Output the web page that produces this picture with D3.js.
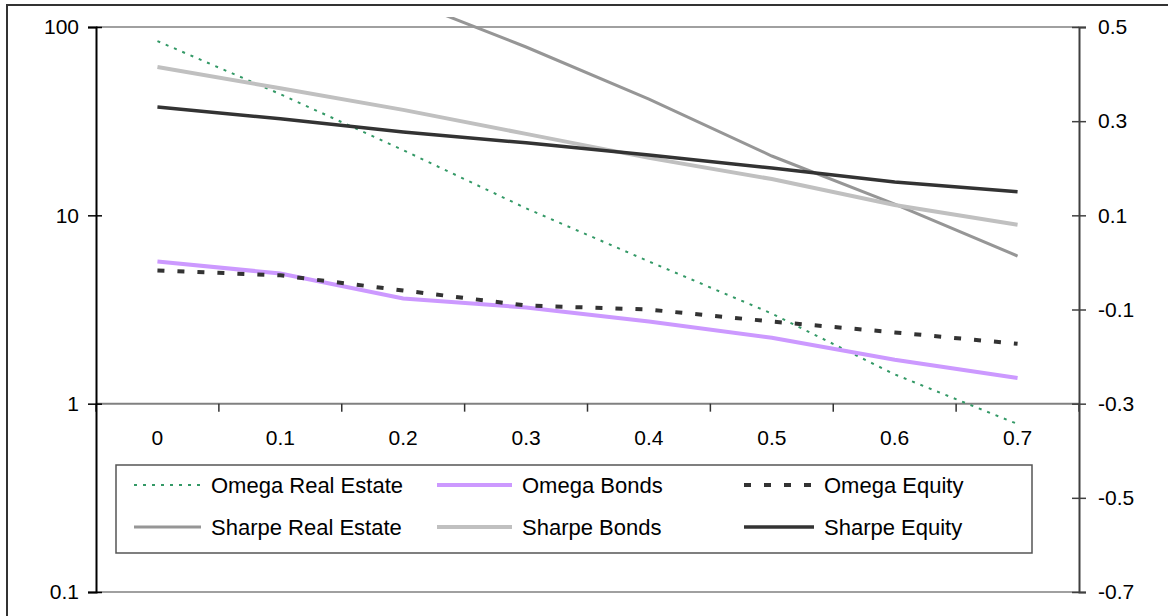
<!DOCTYPE html>
<html>
<head>
<meta charset="utf-8">
<script src="https://cdn.jsdelivr.net/npm/d3@7.9.0/dist/d3.min.js"></script>
<style>
  body { margin: 0; background: #fff; }
  svg { display: block; font-family: "Liberation Sans", Arial, sans-serif; }
</style>
</head>
<body>
<svg id="chart" width="1168" height="616"></svg>
<script>
// data
const weights = ['0', '0.1', '0.2', '0.3', '0.4', '0.5', '0.6', '0.7'];
const omegaRealEstate = [84.2, 44.0, 22.2, 10.9, 5.69, 3.01, 1.43, 0.78];
const omegaBonds = [5.69, 4.91, 3.62, 3.24, 2.73, 2.24, 1.71, 1.37];
const omegaEquity = [5.10, 4.80, 3.99, 3.32, 3.16, 2.73, 2.39, 2.08];
const sharpeRealEstate = [0.80, 0.68, 0.56, 0.4575, 0.347, 0.226, 0.124, 0.0136];
const sharpeBonds = [0.415, 0.370, 0.324, 0.273, 0.222, 0.177, 0.122, 0.080];
const sharpeEquity = [0.330, 0.305, 0.277, 0.254, 0.228, 0.2005, 0.171, 0.150];
const leftTicks = [0.1, 1, 10, 100];
const rightTicks = [-0.7, -0.5, -0.3, -0.1, 0.1, 0.3, 0.5];

const series = [
  { name: 'Omega Real Estate', values: omegaRealEstate, axis: 'left', color: '#339966', width: 2, dash: '3 6' },
  { name: 'Omega Bonds', values: omegaBonds, axis: 'left', color: '#cc99ff', width: 4 },
  { name: 'Omega Equity', values: omegaEquity, axis: 'left', color: '#333333', width: 4, dash: '7 13' },
  { name: 'Sharpe Real Estate', values: sharpeRealEstate, axis: 'right', color: '#969696', width: 3 },
  { name: 'Sharpe Bonds', values: sharpeBonds, axis: 'right', color: '#c0c0c0', width: 4 },
  { name: 'Sharpe Equity', values: sharpeEquity, axis: 'right', color: '#333333', width: 3.5 }
];

const svg = d3.select('#chart');
const plot = { left: 96, right: 1079, top: 27, bottom: 592 };

const x = d3.scaleBand().domain(weights).range([plot.left, plot.right]);
const yL = d3.scaleLog().domain([0.1, 100]).range([plot.bottom, plot.top]);
const yR = d3.scaleLinear().domain([-0.7, 0.5]).range([plot.bottom, plot.top]);

// outer chart border (runs off the bottom/right edge)
svg.append('rect')
  .attr('x', 7).attr('y', 5).attr('width', 1200).attr('height', 700)
  .attr('fill', 'none').attr('stroke', '#333').attr('stroke-width', 2);

// plot frame top / bottom
svg.append('line').attr('x1', plot.left).attr('x2', plot.right)
  .attr('y1', plot.top).attr('y2', plot.top).attr('stroke', '#808080').attr('stroke-width', 1.5);
svg.append('line').attr('x1', plot.left).attr('x2', plot.right)
  .attr('y1', plot.bottom).attr('y2', plot.bottom).attr('stroke', '#808080').attr('stroke-width', 1.5);

// x axis sits at value 1 of the log axis
const xAxisY = yL(1);
const xg = svg.append('g').attr('transform', `translate(0,${xAxisY})`);
xg.append('line').attr('x1', plot.left).attr('x2', plot.right)
  .attr('stroke', '#808080').attr('stroke-width', 2);
const bounds = weights.map(w => x(w)).concat([plot.right]);
xg.selectAll('line.tick').data(bounds).join('line')
  .attr('class', 'tick')
  .attr('x1', d => d).attr('x2', d => d).attr('y1', 0).attr('y2', 8)
  .attr('stroke', '#333').attr('stroke-width', 1.5);
xg.selectAll('text').data(weights).join('text')
  .attr('x', d => x(d) + x.bandwidth() / 2).attr('y', 34)
  .attr('dy', '0.35em').attr('text-anchor', 'middle')
  .attr('font-size', 21).attr('fill', '#000').text(d => d);

// left log axis
const lg = svg.append('g').attr('transform', `translate(${plot.left},0)`)
  .call(d3.axisLeft(yL).tickValues(leftTicks).tickSize(8).tickPadding(9)
    .tickFormat(d => String(d)));
lg.select('.domain').attr('stroke', '#000').attr('stroke-width', 2);
lg.selectAll('.tick line').attr('x1', 6).attr('stroke', '#000').attr('stroke-width', 1.5);
lg.selectAll('.tick text').attr('font-size', 21).attr('fill', '#000')
  .attr('font-family', '"Liberation Sans", Arial, sans-serif');

// right linear axis
const rg = svg.append('g').attr('transform', `translate(${plot.right},0)`)
  .call(d3.axisRight(yR).tickValues(rightTicks).tickSize(7).tickPadding(12)
    .tickFormat(d3.format('.1f')));
rg.select('.domain').attr('stroke', '#404040').attr('stroke-width', 2);
rg.selectAll('.tick line').attr('x1', -7).attr('stroke', '#404040').attr('stroke-width', 1.5);
rg.selectAll('.tick text').attr('font-size', 21).attr('fill', '#000')
  .attr('font-family', '"Liberation Sans", Arial, sans-serif')
  .text(d => d3.format('.1f')(d).replace('−', '-'));

// lines
svg.append('clipPath').attr('id', 'clip')
  .append('rect').attr('x', plot.left).attr('y', 17)
  .attr('width', plot.right - plot.left).attr('height', plot.bottom - 17);

const cx = w => x(w) + x.bandwidth() / 2;
const lines = svg.append('g').attr('clip-path', 'url(#clip)');
lines.selectAll('path').data(series).join('path')
  .attr('fill', 'none')
  .attr('stroke', d => d.color)
  .attr('stroke-width', d => d.width)
  .attr('stroke-dasharray', d => d.dash || null)
  .attr('d', d => {
    const y = d.axis === 'left' ? yL : yR;
    return d3.line().x((v, i) => cx(weights[i])).y(v => y(v))(d.values);
  });

// legend
const legend = { x: 116, y: 465, w: 916, h: 88 };
svg.append('rect')
  .attr('x', legend.x).attr('y', legend.y).attr('width', legend.w).attr('height', legend.h)
  .attr('fill', '#fff').attr('stroke', '#555').attr('stroke-width', 1.5);

const colX = [134, 437, 744];
const swatchW = [67, 75, 70];
const rowY = [485, 527];
const items = svg.selectAll('g.legend-item').data(series).join('g')
  .attr('class', 'legend-item')
  .attr('transform', (d, i) => `translate(${colX[i % 3]},${rowY[Math.floor(i / 3)]})`);
items.append('line')
  .attr('x1', 0).attr('x2', (d, i) => swatchW[i % 3])
  .attr('stroke', d => d.color)
  .attr('stroke-width', d => d.width)
  .attr('stroke-dasharray', d => d.dash || null);
items.append('text')
  .attr('x', (d, i) => swatchW[i % 3] + 10).attr('dy', '0.35em')
  .attr('font-size', 22).attr('fill', '#000').text(d => d.name);
</script>
</body>
</html>
